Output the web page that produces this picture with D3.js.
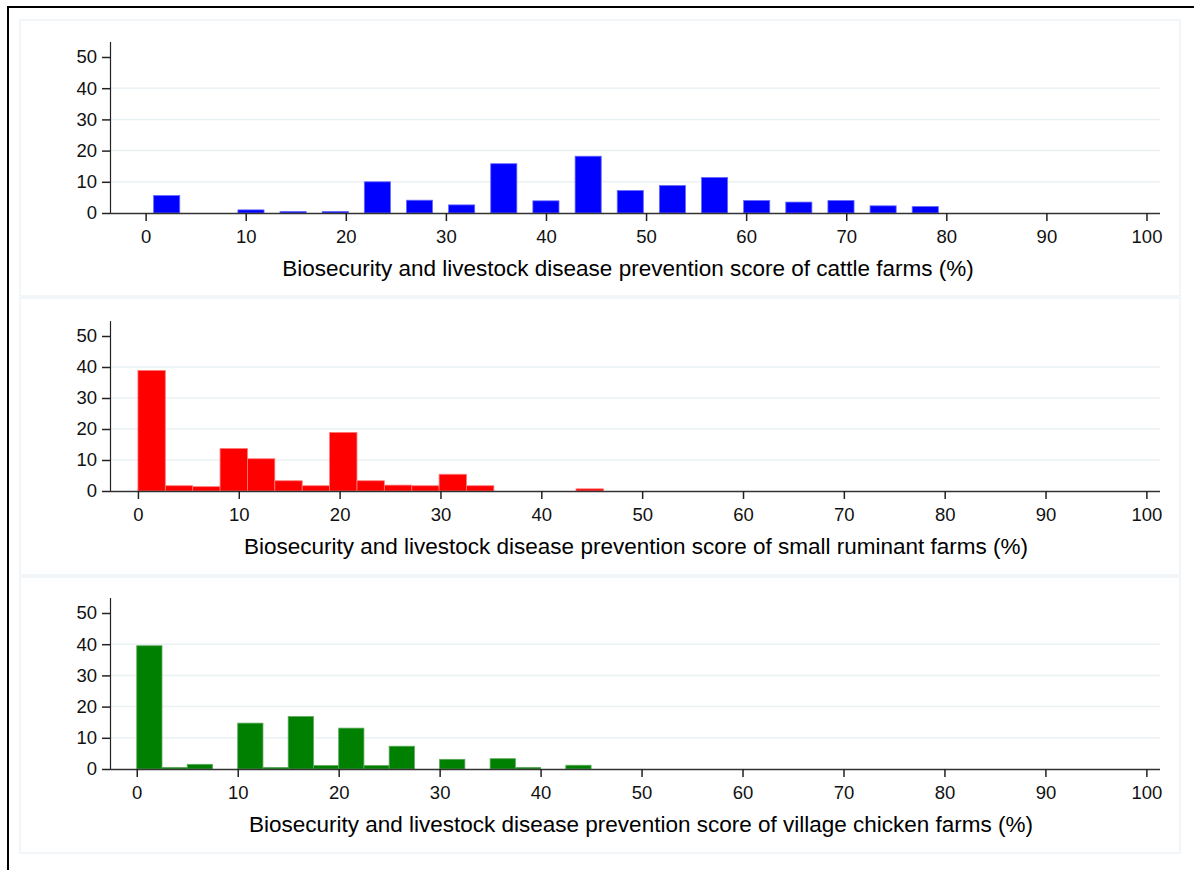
<!DOCTYPE html>
<html><head><meta charset="utf-8">
<script src="https://cdn.jsdelivr.net/npm/d3@7"></script>
<style>
body{margin:0;background:#fff;}
text{font-family:"Liberation Sans",Arial,sans-serif;fill:#000;}
</style></head>
<body><svg id="c" width="1194" height="870"></svg>
<script>
// ---- data (values in percent) ----
const xTicks = [0,10,20,30,40,50,60,70,80,90,100];
const yTicks = [0,10,20,30,40,50];

const cattleTitle = "Biosecurity and livestock disease prevention score of cattle farms (%)";
const cattleBinStart = [0,4.21,8.42,12.63,16.84,21.05,25.26,29.47,33.68,37.89,42.11,46.32,50.53,54.74,58.95,63.16,67.37,71.58,75.79];
const cattleBinWidth = 4.21;
const cattleValues = [5.6,0,1.0,0.5,0.5,10.0,4.1,2.6,15.8,3.9,18.2,7.2,8.8,11.4,4.0,3.5,4.0,2.3,2.1];

const rumTitle = "Biosecurity and livestock disease prevention score of small ruminant farms (%)";
const rumBinStart = [0,2.715,5.43,8.145,10.86,13.575,16.29,19.005,21.72,24.435,27.15,29.865,32.58,35.295,38.01,40.725,43.44];
const rumBinWidth = 2.715;
const rumValues = [38.9,1.7,1.4,13.7,10.4,3.3,1.7,18.9,3.3,1.9,1.7,5.4,1.7,0,0,0,0.7];

const chickTitle = "Biosecurity and livestock disease prevention score of village chicken farms (%)";
const chickBinStart = [0,2.5,5,7.5,10,12.5,15,17.5,20,22.5,25,27.5,30,32.5,35,37.5,40,42.5];
const chickBinWidth = 2.5;
const chickValues = [39.5,0.5,1.5,0,14.7,0.5,16.8,1.1,13.1,1.1,7.3,0,3.1,0,3.3,0.5,0,1.2];

const panels = [
  {title:cattleTitle, starts:cattleBinStart, w:cattleBinWidth, vals:cattleValues, color:"#0000ff", edge:"#6a6aff", gap:0.38, xmin:-3.56, top:20, bottom:296, y0:213, y50:57, tx:628},
  {title:rumTitle, starts:rumBinStart, w:rumBinWidth, vals:rumValues, color:"#ff0000", edge:"#ff7a7a", gap:0, xmin:-2.77, top:298, bottom:575, y0:491, y50:336, tx:636},
  {title:chickTitle, starts:chickBinStart, w:chickBinWidth, vals:chickValues, color:"#008000", edge:"#5aa85a", gap:0, xmin:-2.65, top:577, bottom:853, y0:769, y50:613, tx:641}
];

const svg = d3.select("#c");
const gridCol = "#eaf1f4";
const axL = 110, axR = 1160;

// outer frame
svg.append("rect").attr("x",8).attr("y",7).attr("width",1200).attr("height",900)
  .attr("fill","none").attr("stroke","#000").attr("stroke-width",2);

panels.forEach(p=>{
  svg.append("rect").attr("x",20).attr("y",p.top).attr("width",1160).attr("height",p.bottom-p.top)
    .attr("fill","#fff").attr("stroke",gridCol).attr("stroke-width",1.2);

  const x = d3.scaleLinear().domain([p.xmin,101.35]).range([axL,axR]);
  const y = d3.scaleLinear().domain([0,50]).range([p.y0,p.y50]);
  const yTop = y(54.8);

  const g = svg.append("g");
  // gridlines
  g.selectAll("line.grid").data(yTicks.filter(t=>t>0&&t<50)).join("line")
    .attr("x1",axL).attr("x2",axR).attr("y1",d=>y(d)).attr("y2",d=>y(d))
    .attr("stroke",gridCol).attr("stroke-width",1.5);

  // bars
  g.selectAll("rect.bar").data(p.vals.map((v,i)=>({v,s:p.starts[i]})).filter(d=>d.v>0)).join("rect")
    .attr("x",d=>x(d.s + p.w*p.gap/2))
    .attr("width",d=>x(d.s + p.w*(1-p.gap/2)) - x(d.s + p.w*p.gap/2))
    .attr("y",d=>y(d.v)).attr("height",d=>y(0)-y(d.v))
    .attr("fill",p.color).attr("stroke",p.edge).attr("stroke-width",0.8);

  // x axis
  const xa = g.append("g").attr("transform",`translate(0,${p.y0})`)
    .call(d3.axisBottom(x).tickValues(xTicks).tickSize(8).tickPadding(9).tickFormat(d3.format("d")));
  xa.select(".domain").attr("d",`M${axL},0.5H${axR}`).attr("stroke","#333").attr("stroke-width",1.6);
  xa.selectAll(".tick line").attr("stroke","#222").attr("stroke-width",1.5);
  xa.selectAll("text").attr("font-size",18.5).style("fill","#111");

  // y axis
  const ya = g.append("g").attr("transform",`translate(${axL},0)`)
    .call(d3.axisLeft(y).tickValues(yTicks).tickSize(8).tickPadding(5));
  ya.select(".domain").attr("d",`M0.5,${yTop}V${p.y0}`).attr("stroke","#222").attr("stroke-width",1.2);
  ya.selectAll(".tick line").attr("stroke","#222").attr("stroke-width",1.5);
  ya.selectAll("text").attr("font-size",18.5).style("fill","#111");

  // title
  g.append("text").attr("x",p.tx).attr("y",p.y0+63).attr("text-anchor","middle")
    .attr("font-size",22.5).text(p.title);
});
</script></body></html>
